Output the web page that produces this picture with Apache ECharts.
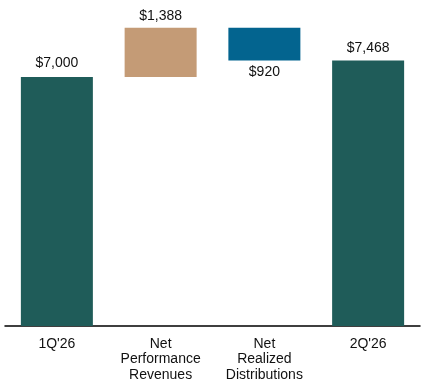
<!DOCTYPE html>
<html>
<head>
<meta charset="utf-8">
<script src="https://cdn.jsdelivr.net/npm/echarts@6/dist/echarts.min.js"></script>
<style>
  html, body { margin: 0; padding: 0; background: #fff; }
  #chart { width: 427px; height: 384px; }
</style>
</head>
<body>
<div id="chart"></div>
<script>
// waterfall steps
var categories = ["1Q'26", 'Net\nPerformance\nRevenues', 'Net\nRealized\nDistributions', "2Q'26"]
var baseValues = [0, 7000, 7468, 0]
var stepValues = [7000, 1388, 920, 7468]
var stepColors = ['#1f5c59', '#c49b76', '#03648f', '#1f5c59']
var labelSides = ['top', 'top', 'bottom', 'top']

var chart = echarts.init(document.getElementById('chart'))

var fmt = function (v) {
  return '$' + v.toLocaleString('en-US')
}

var option = {
  backgroundColor: '#fff',
  animation: false,
  textStyle: { fontFamily: 'Liberation Sans' },
  grid: {
    top: 6,
    bottom: 58,
    left: 5,
    right: 7
  },
  xAxis: {
    type: 'category',
    data: categories,
    axisLine: {
      show: true,
      lineStyle: { color: '#000', width: 1.5 }
    },
    axisTick: { show: false },
    axisLabel: {
      color: '#111',
      fontSize: 14,
      lineHeight: 15.5,
      margin: 10,
      interval: 0
    }
  },
  yAxis: {
    type: 'value',
    min: 0,
    max: 9000,
    show: false,
    splitLine: { show: false }
  },
  series: [
    {
      // invisible base that lifts the floating steps
      type: 'bar',
      stack: 'wf',
      barWidth: 72,
      itemStyle: { color: 'transparent' },
      data: baseValues,
      silent: true
    },
    {
      type: 'bar',
      stack: 'wf',
      barWidth: 72,
      data: stepValues.map(function (v, i) {
        return {
          value: v,
          itemStyle: { color: stepColors[i] },
          label: {
            show: true,
            position: labelSides[i],
            distance: i === 0 ? 7 : 5,
            formatter: fmt(v),
            color: '#111',
            fontSize: 14
          }
        }
      })
    }
  ]
}
chart.setOption(option)
</script>
</body>
</html>
